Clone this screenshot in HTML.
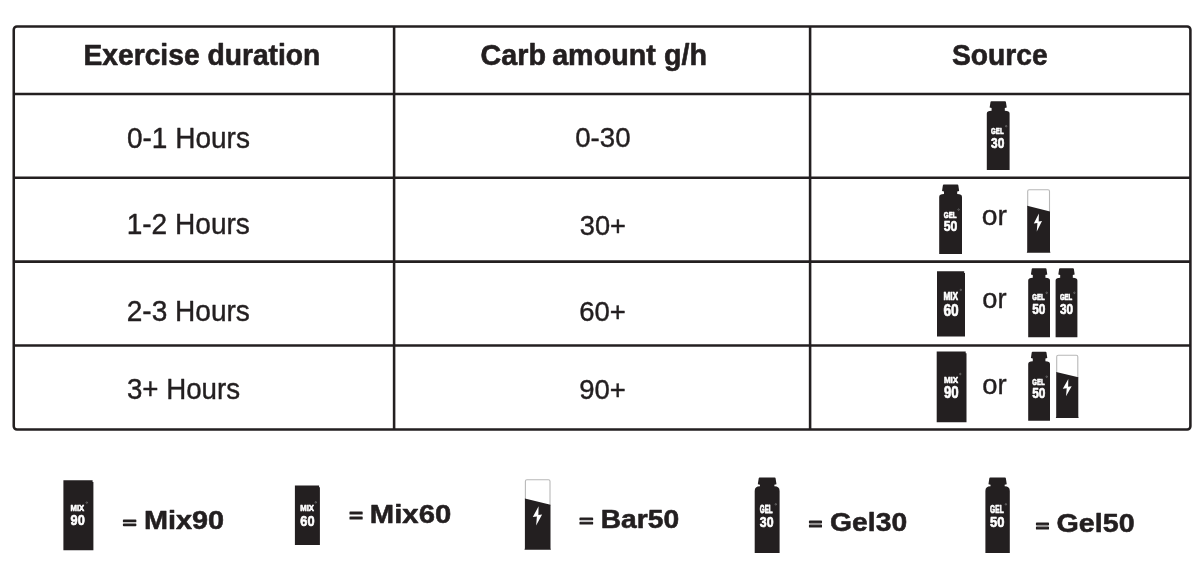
<!DOCTYPE html>
<html lang="en">
<head>
<meta charset="utf-8">
<title>Carb intake guide</title>
<style>
html,body{margin:0;padding:0;background:#fff;}
body{width:1202px;height:570px;overflow:hidden;}
svg{display:block;font-family:"Liberation Sans",sans-serif;}
</style>
</head>
<body>
<svg width="1202" height="570" viewBox="0 0 1202 570">
<rect width="1202" height="570" fill="#fff"/>
<rect x="13.75" y="26.5" width="1176.65" height="402.95" rx="3.2" ry="3.2" fill="none" stroke="#231f20" stroke-width="2.55"/>
<line x1="13.75" y1="94.0" x2="1190.4" y2="94.0" stroke="#231f20" stroke-width="2.55"/>
<line x1="13.75" y1="177.8" x2="1190.4" y2="177.8" stroke="#231f20" stroke-width="2.55"/>
<line x1="13.75" y1="261.6" x2="1190.4" y2="261.6" stroke="#231f20" stroke-width="2.55"/>
<line x1="13.75" y1="345.5" x2="1190.4" y2="345.5" stroke="#231f20" stroke-width="2.55"/>
<line x1="394.1" y1="26.5" x2="394.1" y2="429.45" stroke="#231f20" stroke-width="2.55"/>
<line x1="810.1" y1="26.5" x2="810.1" y2="429.45" stroke="#231f20" stroke-width="2.55"/>
<text transform="translate(83.44 65.30) scale(0.9616 1)" font-size="29.36" font-weight="700" fill="#231f20" stroke="#231f20" stroke-width="0.624" stroke-linejoin="round">Exercise duration</text>
<text transform="translate(0 65.30) scale(0.9779 1)" font-size="29.36" font-weight="700" fill="#231f20" stroke="#231f20" stroke-width="0.614" stroke-linejoin="round"><tspan x="491.48">Carb </tspan><tspan x="564.65">amount </tspan><tspan x="678.94">g/h</tspan></text>
<text transform="translate(951.96 65.30) scale(0.9629 1)" font-size="29.36" font-weight="700" fill="#231f20" stroke="#231f20" stroke-width="0.623" stroke-linejoin="round">Source</text>
<text transform="translate(126.92 147.50) scale(0.9788 1)" font-size="28.63" fill="#231f20" stroke="#231f20" stroke-width="0.409" stroke-linejoin="round">0-1 Hours</text>
<text transform="translate(126.64 234.40) scale(0.9810 1)" font-size="28.63" fill="#231f20" stroke="#231f20" stroke-width="0.408" stroke-linejoin="round">1-2 Hours</text>
<text transform="translate(126.78 320.70) scale(0.9799 1)" font-size="28.63" fill="#231f20" stroke="#231f20" stroke-width="0.408" stroke-linejoin="round">2-3 Hours</text>
<text transform="translate(126.93 398.70) scale(0.9671 1)" font-size="28.63" fill="#231f20" stroke="#231f20" stroke-width="0.414" stroke-linejoin="round">3+ Hours</text>
<text transform="translate(575.24 146.80) scale(0.9808 1)" font-size="28.20" fill="#231f20" stroke="#231f20" stroke-width="0.408" stroke-linejoin="round">0-30</text>
<text transform="translate(579.75 234.50) scale(0.9651 1)" font-size="28.20" fill="#231f20" stroke="#231f20" stroke-width="0.414" stroke-linejoin="round">30+</text>
<text transform="translate(579.31 320.60) scale(0.9744 1)" font-size="28.20" fill="#231f20" stroke="#231f20" stroke-width="0.411" stroke-linejoin="round">60+</text>
<text transform="translate(579.31 398.70) scale(0.9744 1)" font-size="28.20" fill="#231f20" stroke="#231f20" stroke-width="0.411" stroke-linejoin="round">90+</text>
<text transform="translate(981.71 224.90) scale(1.0273 1)" font-size="27.62" fill="#231f20" stroke="#231f20" stroke-width="0.389" stroke-linejoin="round">or</text>
<text transform="translate(982.35 307.90) scale(0.9891 1)" font-size="27.62" fill="#231f20" stroke="#231f20" stroke-width="0.404" stroke-linejoin="round">or</text>
<text transform="translate(982.24 394.20) scale(0.9933 1)" font-size="27.62" fill="#231f20" stroke="#231f20" stroke-width="0.403" stroke-linejoin="round">or</text>
<text transform="translate(143.89 529.20) scale(1.0919 1)" font-size="26.45" font-weight="700" fill="#231f20" stroke="#231f20" stroke-width="0.550" stroke-linejoin="round">Mix90</text>
<text transform="translate(369.87 523.00) scale(1.1183 1)" font-size="26.16" font-weight="700" fill="#231f20" stroke="#231f20" stroke-width="0.537" stroke-linejoin="round">Mix60</text>
<text transform="translate(600.63 527.50) scale(1.0795 1)" font-size="26.16" font-weight="700" fill="#231f20" stroke="#231f20" stroke-width="0.556" stroke-linejoin="round">Bar50</text>
<text transform="translate(830.12 530.60) scale(1.0689 1)" font-size="26.45" font-weight="700" fill="#231f20" stroke="#231f20" stroke-width="0.561" stroke-linejoin="round">Gel30</text>
<text transform="translate(1056.50 532.20) scale(1.0846 1)" font-size="26.45" font-weight="700" fill="#231f20" stroke="#231f20" stroke-width="0.553" stroke-linejoin="round">Gel50</text>
<text transform="translate(122.84 528.37) scale(2.3564 1.5232)" font-size="10.0" font-weight="700" fill="#231f20" stroke="#231f20" stroke-width="0.696" stroke-linejoin="round">=</text>
<text transform="translate(349.24 522.29) scale(2.3370 1.7536)" font-size="10.0" font-weight="700" fill="#231f20" stroke="#231f20" stroke-width="0.660" stroke-linejoin="round">=</text>
<text transform="translate(579.22 526.95) scale(2.4145 1.6512)" font-size="10.0" font-weight="700" fill="#231f20" stroke="#231f20" stroke-width="0.664" stroke-linejoin="round">=</text>
<text transform="translate(808.86 530.38) scale(2.2982 1.6768)" font-size="10.0" font-weight="700" fill="#231f20" stroke="#231f20" stroke-width="0.679" stroke-linejoin="round">=</text>
<text transform="translate(1035.86 531.88) scale(2.2982 1.6768)" font-size="10.0" font-weight="700" fill="#231f20" stroke="#231f20" stroke-width="0.679" stroke-linejoin="round">=</text>
<path d="M990.45 102.20 Q990.45 101.20 991.45 101.20 L1004.95 101.20 Q1005.95 101.20 1005.95 102.20 L1006.75 107.47 L1004.81 107.97 L1004.81 110.64 Q1009.60 110.64 1009.60 113.46 L1009.60 170.10 L986.80 170.10 L986.80 113.46 Q986.80 110.64 991.59 110.64 L991.59 107.97 L989.65 107.47 Z" fill="#231f20"/>
<text transform="translate(991.11 133.86) scale(0.6078 0.8904)" font-size="10.0" font-weight="700" fill="#fff" stroke="#fff" stroke-width="0.801" stroke-linejoin="round">GEL</text>
<text transform="translate(991.11 147.57) scale(1.1930 1.4470)" font-size="10.0" font-weight="700" fill="#fff" stroke="#fff" stroke-width="0.455" stroke-linejoin="round">30</text>
<circle cx="1006.20" cy="126.20" r="0.75" fill="none" stroke="#999" stroke-width="0.5"/>
<path d="M942.85 185.60 Q942.85 184.60 943.85 184.60 L957.35 184.60 Q958.35 184.60 958.35 185.60 L959.15 190.92 L957.21 191.42 L957.21 194.11 Q962.00 194.11 962.00 196.95 L962.00 254.00 L939.20 254.00 L939.20 196.95 Q939.20 194.11 943.99 194.11 L943.99 191.42 L942.05 190.92 Z" fill="#231f20"/>
<text transform="translate(943.81 217.56) scale(0.6227 0.8904)" font-size="10.0" font-weight="700" fill="#fff" stroke="#fff" stroke-width="0.793" stroke-linejoin="round">GEL</text>
<text transform="translate(943.81 231.27) scale(1.2214 1.4470)" font-size="10.0" font-weight="700" fill="#fff" stroke="#fff" stroke-width="0.450" stroke-linejoin="round">50</text>
<circle cx="958.60" cy="209.60" r="0.75" fill="none" stroke="#999" stroke-width="0.5"/>
<path d="M1027.70 206.80 L1027.70 191.30 Q1027.70 189.80 1029.20 189.80 L1048.00 189.80 Q1049.50 189.80 1049.50 191.30 L1049.50 212.40" fill="#fff" stroke="#b8b8b8" stroke-width="1.1"/>
<path d="M1027.20 205.80 L1050.00 211.40 L1050.00 251.30 L1050.40 252.80 L1026.80 252.80 L1027.20 251.30 Z" fill="#231f20"/>
<polygon points="1038.88,213.60 1033.80,223.57 1037.41,223.03 1036.75,231.40 1042.00,221.08 1038.72,221.61" fill="#fff"/>
<path d="M937.00 271.20 L964.20 271.20 L964.20 273.00 L965.00 273.00 L965.00 336.60 L937.00 336.60 Z" fill="#231f20"/>
<text transform="translate(943.38 299.70) scale(0.8313 1.1378)" font-size="10.0" font-weight="700" fill="#fff" stroke="#fff" stroke-width="0.609" stroke-linejoin="round">MIX</text>
<text transform="translate(943.47 316.43) scale(1.3743 1.7391)" font-size="10.0" font-weight="700" fill="#fff" stroke="#fff" stroke-width="0.385" stroke-linejoin="round">60</text>
<circle cx="960.80" cy="289.90" r="0.75" fill="none" stroke="#999" stroke-width="0.5"/>
<path d="M1031.69 269.30 Q1031.69 268.30 1032.69 268.30 L1045.51 268.30 Q1046.51 268.30 1046.51 269.30 L1047.28 274.58 L1045.42 275.08 L1045.42 277.75 Q1050.00 277.75 1050.00 280.58 L1050.00 337.30 L1028.20 337.30 L1028.20 280.58 Q1028.20 277.75 1032.78 277.75 L1032.78 275.08 L1030.92 274.58 Z" fill="#231f20"/>
<text transform="translate(1032.21 300.37) scale(0.6028 0.8626)" font-size="10.0" font-weight="700" fill="#fff" stroke="#fff" stroke-width="0.819" stroke-linejoin="round">GEL</text>
<text transform="translate(1032.22 314.48) scale(1.1835 1.4052)" font-size="10.0" font-weight="700" fill="#fff" stroke="#fff" stroke-width="0.464" stroke-linejoin="round">50</text>
<circle cx="1046.70" cy="292.80" r="0.75" fill="none" stroke="#999" stroke-width="0.5"/>
<path d="M1059.09 269.30 Q1059.09 268.30 1060.09 268.30 L1072.91 268.30 Q1073.91 268.30 1073.91 269.30 L1074.68 274.58 L1072.82 275.08 L1072.82 277.75 Q1077.40 277.75 1077.40 280.58 L1077.40 337.30 L1055.60 337.30 L1055.60 280.58 Q1055.60 277.75 1060.18 277.75 L1060.18 275.08 L1058.32 274.58 Z" fill="#231f20"/>
<text transform="translate(1059.91 300.37) scale(0.6028 0.8626)" font-size="10.0" font-weight="700" fill="#fff" stroke="#fff" stroke-width="0.819" stroke-linejoin="round">GEL</text>
<text transform="translate(1059.92 314.48) scale(1.1835 1.4191)" font-size="10.0" font-weight="700" fill="#fff" stroke="#fff" stroke-width="0.461" stroke-linejoin="round">30</text>
<circle cx="1074.40" cy="292.80" r="0.75" fill="none" stroke="#999" stroke-width="0.5"/>
<path d="M936.70 351.50 L965.70 351.50 L965.70 353.30 L966.50 353.30 L966.50 422.30 L936.70 422.30 Z" fill="#231f20"/>
<text transform="translate(943.90 382.60) scale(0.8022 0.9671)" font-size="10.0" font-weight="700" fill="#fff" stroke="#fff" stroke-width="0.678" stroke-linejoin="round">MIX</text>
<text transform="translate(943.99 398.14) scale(1.3263 1.6557)" font-size="10.0" font-weight="700" fill="#fff" stroke="#fff" stroke-width="0.402" stroke-linejoin="round">90</text>
<circle cx="960.30" cy="374.00" r="0.75" fill="none" stroke="#999" stroke-width="0.5"/>
<path d="M1031.69 352.70 Q1031.69 351.70 1032.69 351.70 L1045.51 351.70 Q1046.51 351.70 1046.51 352.70 L1047.28 357.99 L1045.42 358.49 L1045.42 361.17 Q1050.00 361.17 1050.00 364.00 L1050.00 420.80 L1028.20 420.80 L1028.20 364.00 Q1028.20 361.17 1032.78 361.17 L1032.78 358.49 L1030.92 357.99 Z" fill="#231f20"/>
<text transform="translate(1032.21 384.55) scale(0.6028 0.9600)" font-size="10.0" font-weight="700" fill="#fff" stroke="#fff" stroke-width="0.768" stroke-linejoin="round">GEL</text>
<text transform="translate(1032.22 398.47) scale(1.1835 1.4470)" font-size="10.0" font-weight="700" fill="#fff" stroke="#fff" stroke-width="0.456" stroke-linejoin="round">50</text>
<circle cx="1046.70" cy="376.70" r="0.75" fill="none" stroke="#999" stroke-width="0.5"/>
<path d="M1056.70 372.90 L1056.70 356.70 Q1056.70 355.20 1058.20 355.20 L1076.30 355.20 Q1077.80 355.20 1077.80 356.70 L1077.80 378.20" fill="#fff" stroke="#b8b8b8" stroke-width="1.1"/>
<path d="M1056.20 371.90 L1078.30 377.20 L1078.30 416.60 L1078.70 418.10 L1055.80 418.10 L1056.20 416.60 Z" fill="#231f20"/>
<polygon points="1068.32,379.00 1062.80,388.69 1066.72,388.17 1066.00,396.30 1071.70,386.27 1068.14,386.79" fill="#fff"/>
<path d="M63.40 480.30 L92.60 480.30 L92.60 482.10 L93.40 482.10 L93.40 550.30 L63.40 550.30 Z" fill="#231f20"/>
<text transform="translate(70.52 511.20) scale(0.7732 0.9956)" font-size="10.0" font-weight="700" fill="#fff" stroke="#fff" stroke-width="0.678" stroke-linejoin="round">MIX</text>
<text transform="translate(70.60 525.47) scale(1.2782 1.4470)" font-size="10.0" font-weight="700" fill="#fff" stroke="#fff" stroke-width="0.440" stroke-linejoin="round">90</text>
<circle cx="86.80" cy="502.60" r="0.75" fill="none" stroke="#999" stroke-width="0.5"/>
<path d="M294.90 485.50 L319.10 485.50 L319.10 487.30 L319.90 487.30 L319.90 544.90 L294.90 544.90 Z" fill="#231f20"/>
<text transform="translate(300.22 511.20) scale(0.7732 0.9529)" font-size="10.0" font-weight="700" fill="#fff" stroke="#fff" stroke-width="0.695" stroke-linejoin="round">MIX</text>
<text transform="translate(300.30 525.76) scale(1.2782 1.5443)" font-size="10.0" font-weight="700" fill="#fff" stroke="#fff" stroke-width="0.425" stroke-linejoin="round">60</text>
<circle cx="315.80" cy="502.30" r="0.75" fill="none" stroke="#999" stroke-width="0.5"/>
<path d="M525.40 499.60 L525.40 481.30 Q525.40 479.80 526.90 479.80 L548.50 479.80 Q550.00 479.80 550.00 481.30 L550.00 505.80" fill="#fff" stroke="#b8b8b8" stroke-width="1.1"/>
<path d="M524.90 498.60 L550.50 504.80 L550.50 548.20 L550.90 549.70 L524.50 549.70 L524.90 548.20 Z" fill="#231f20"/>
<polygon points="538.57,506.30 532.80,517.11 536.89,516.53 536.15,525.60 542.10,514.41 538.38,514.99" fill="#fff"/>
<path d="M758.68 478.50 Q758.68 477.50 759.68 477.50 L774.62 477.50 Q775.62 477.50 775.62 478.50 L776.49 484.36 L774.37 484.86 L774.37 486.32 Q779.60 486.32 779.60 490.92 L779.60 552.90 L754.70 552.90 L754.70 490.92 Q754.70 486.32 759.93 486.32 L759.93 484.86 L757.81 484.36 Z" fill="#231f20"/>
<text transform="translate(759.80 513.33) scale(0.6277 1.0574)" font-size="10.0" font-weight="700" fill="#fff" stroke="#fff" stroke-width="0.712" stroke-linejoin="round">GEL</text>
<text transform="translate(759.81 527.18) scale(1.2309 1.4052)" font-size="10.0" font-weight="700" fill="#fff" stroke="#fff" stroke-width="0.455" stroke-linejoin="round">30</text>
<circle cx="775.80" cy="504.30" r="0.75" fill="none" stroke="#999" stroke-width="0.5"/>
<path d="M989.30 478.50 Q989.30 477.50 990.30 477.50 L1004.90 477.50 Q1005.90 477.50 1005.90 478.50 L1006.75 484.36 L1004.68 484.86 L1004.68 486.32 Q1009.80 486.32 1009.80 490.92 L1009.80 552.90 L985.40 552.90 L985.40 490.92 Q985.40 486.32 990.52 486.32 L990.52 484.86 L988.45 484.36 Z" fill="#231f20"/>
<text transform="translate(990.09 513.03) scale(0.6626 1.0574)" font-size="10.0" font-weight="700" fill="#fff" stroke="#fff" stroke-width="0.698" stroke-linejoin="round">GEL</text>
<text transform="translate(990.10 527.47) scale(1.2972 1.5026)" font-size="10.0" font-weight="700" fill="#fff" stroke="#fff" stroke-width="0.429" stroke-linejoin="round">50</text>
<circle cx="1005.90" cy="504.30" r="0.75" fill="none" stroke="#999" stroke-width="0.5"/>
</svg>
</body>
</html>
